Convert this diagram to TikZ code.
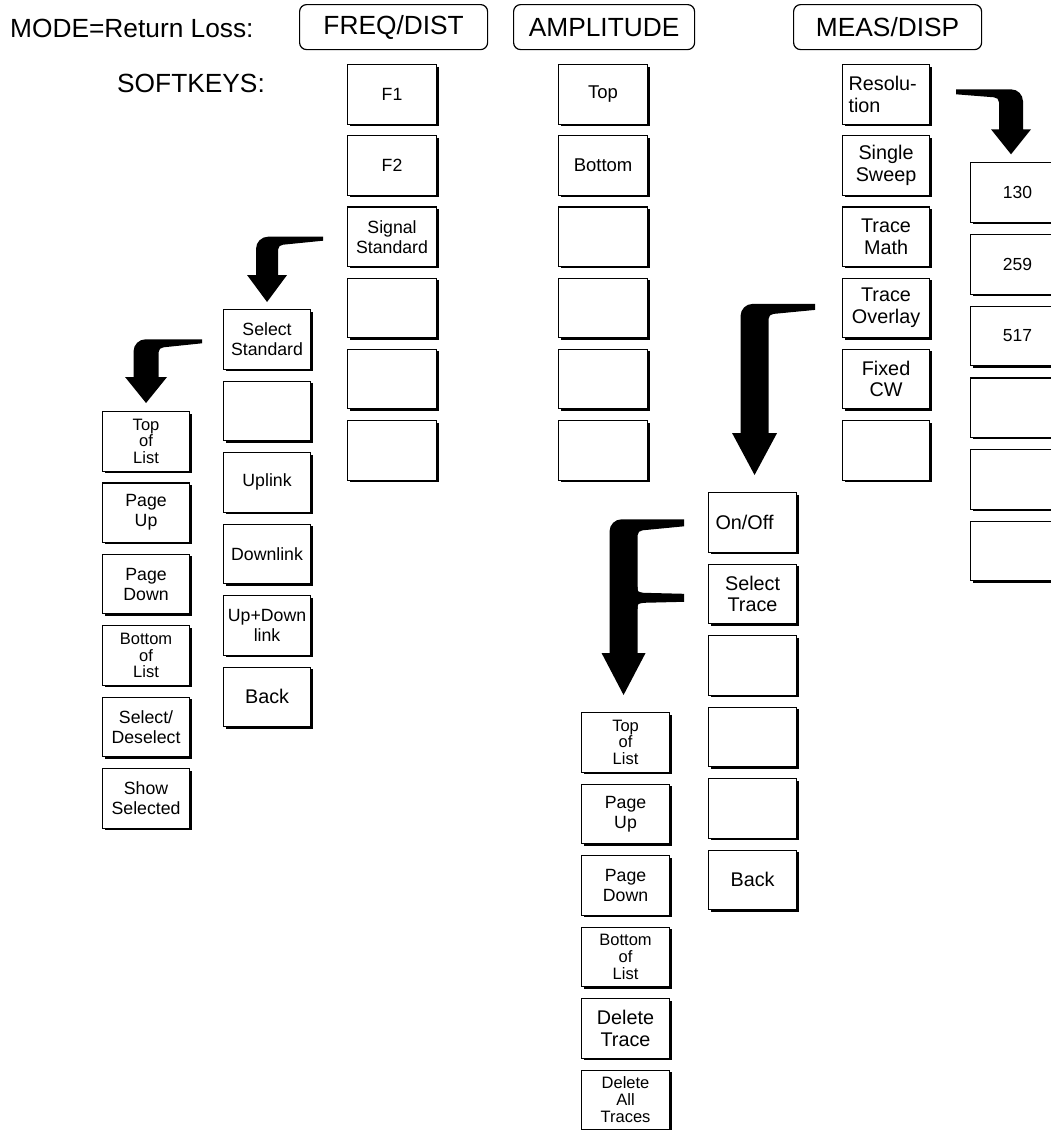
\documentclass[tikz,border=0pt]{standalone}
\usepackage{fontspec}
\setmainfont{Liberation Sans}
\usetikzlibrary{calc,shadows}

\newcommand\fhd{\fontsize{26.3}{30}\selectfont}
\newcommand\fsk{\fontsize{17.7}{20}\selectfont}
\newcommand\fsm{\fontsize{16.5}{16.8}\selectfont}
\newcommand\fbg{\fontsize{19.8}{21.5}\selectfont}

% bent arrow: #1 tail end (top edge), #2 tip, #3 side (+1 tail to the right, -1 tail to the left)
% #4 shaft half width, #5 head half width, #6 head length, #7 tail end thickness, #8 tail thickness at bend
\newcommand{\bentarrow}[8]{%
  \fill[arrowfill] let \p1=(#1), \p2=(#2) in
    (\x1,\y1) -- ({\x2+(#3)*(12-#4)*1pt},\y1)
    .. controls ({\x2+(#3)*(5.4-#4)*1pt},\y1) and ({\x2-(#3)*#4*1pt},{\y1-5.4pt}) ..
    ({\x2-(#3)*#4*1pt},{\y1-12pt})
    -- ({\x2-(#3)*#4*1pt},{\y2+#6*1pt}) -- ({\x2-(#3)*#5*1pt},{\y2+#6*1pt})
    -- (\x2,\y2)
    -- ({\x2+(#3)*#5*1pt},{\y2+#6*1pt}) -- ({\x2+(#3)*#4*1pt},{\y2+#6*1pt})
    -- ({\x2+(#3)*#4*1pt},{\y1-#8*1pt-5pt})
    .. controls ({\x2+(#3)*#4*1pt},{\y1-#8*1pt-2.2pt}) and ({\x2+(#3)*(#4+2.2)*1pt},{\y1-#8*1pt}) ..
    ({\x2+(#3)*(#4+5)*1pt},{\y1-#8*1pt})
    -- (\x1,{\y1-#7*1pt}) -- cycle;
}

\begin{document}
\begin{tikzpicture}[x=1pt,y=-1pt,
  skey/.style={draw, line width=1.1pt, fill=white, minimum height=59.5,
    inner sep=0pt, align=center, font=\fsk, anchor=north west,
    drop shadow={shadow xshift=2pt, shadow yshift=-2pt, opacity=1, fill=black}},
  hdr/.style={draw, rounded corners=7pt, line width=1.2pt, minimum height=45,
    inner sep=0pt, font=\fhd, anchor=north west},
  lbl/.style={font=\fhd, anchor=base west, inner sep=0pt},
  arrowfill/.style={fill=black}]

\fill[white] (0,0) rectangle (1051,1130);
\useasboundingbox (0,0) rectangle (1051,1130);

% titles
\node[lbl] (mode) at (10,37.3) {MODE=Return Loss:};
\node[lbl] (softk) at (117,92.7) {SOFTKEYS:};
\node[hdr, minimum width=188] (hfreq) at (299,4) {FREQ/DIST};
\node[hdr, minimum width=181] (hamp) at (513,4) {AMPLITUDE};
\node[hdr, minimum width=188] (hmeas) at (793,4) {MEAS/DISP};

% FREQ/DIST column
\begin{scope}[every node/.append style={skey, minimum width=89}]
\node (c1-1) at (347,64)    {F1};
\node (c1-2) at (347,135.2) {F2};
\node (c1-3) at (347,206.4) {Signal\\Standard};
\node (c1-4) at (347,277.6) {};
\node (c1-5) at (347,348.8) {};
\node (c1-6) at (347,420)   {};
\end{scope}

% AMPLITUDE column
\begin{scope}[every node/.append style={skey, minimum width=89}]
\node[font=\fontsize{18.5}{20}\selectfont] (c2-1) at (558,64)    {Top};
\node[font=\fontsize{18.5}{20}\selectfont] (c2-2) at (558,135.2) {Bottom};
\node (c2-3) at (558,206.4) {};
\node (c2-4) at (558,277.6) {};
\node (c2-5) at (558,348.8) {};
\node (c2-6) at (558,420)   {};
\end{scope}

% MEAS/DISP column
\begin{scope}[every node/.append style={skey, minimum width=87, font=\fbg}]
\node[text width=75, align=left] (c3-1) at (842,64) {Resolu-\\tion};
\node (c3-2) at (842,135.2) {Single\\Sweep};
\node (c3-3) at (842,206.4) {Trace\\Math};
\node (c3-4) at (842,277.6) {Trace\\Overlay};
\node (c3-5) at (842,348.8) {Fixed\\CW};
\node (c3-6) at (842,420)   {};
\end{scope}

% Resolution submenu
\begin{scope}[every node/.append style={skey, minimum width=94, font=\fontsize{17.5}{20}\selectfont}]
\node (c4-1) at (970,162.3) {130};
\node (c4-2) at (970,234)   {259};
\node (c4-3) at (970,305.7) {517};
\node (c4-4) at (970,377.4) {};
\node (c4-5) at (970,449.1) {};
\node (c4-6) at (970,520.8) {};
\end{scope}

% Signal Standard submenu
\begin{scope}[every node/.append style={skey, minimum width=87}]
\node (c5-1) at (223,309)   {Select\\Standard};
\node (c5-2) at (223,380.5) {};
\node (c5-3) at (223,452)   {Uplink};
\node (c5-4) at (223,523.5) {Downlink};
\node (c5-5) at (223,595)   {Up+Down\\link};
\node[font=\fbg] (c5-6) at (223,666.5) {Back};
\end{scope}

% Select Standard submenu
\begin{scope}[every node/.append style={skey, minimum width=87}]
\node[font=\fsm] (c6-1) at (102,411)   {Top\\of\\List};
\node (c6-2) at (102,482.4) {Page\\Up};
\node (c6-3) at (102,553.8) {Page\\Down};
\node[font=\fsm] (c6-4) at (102,625.2) {Bottom\\of\\List};
\node (c6-5) at (102,696.6) {Select/\\Deselect};
\node (c6-6) at (102,768)   {Show\\Selected};
\end{scope}

% Trace Overlay submenu
\begin{scope}[every node/.append style={skey, minimum width=88, font=\fbg}]
\node[text width=74, align=left] (c7-1) at (708,492) {On/Off};
\node (c7-2) at (708,563.5) {Select\\Trace};
\node (c7-3) at (708,635)   {};
\node (c7-4) at (708,706.5) {};
\node (c7-5) at (708,778)   {};
\node (c7-6) at (708,849.5) {Back};
\end{scope}

% Select Trace submenu
\begin{scope}[every node/.append style={skey, minimum width=88}]
\node[font=\fsm] (c8-1) at (581,712)   {Top\\of\\List};
\node (c8-2) at (581,783.5) {Page\\Up};
\node (c8-3) at (581,855)   {Page\\Down};
\node[font=\fsm] (c8-4) at (581,926.5) {Bottom\\of\\List};
\node[font=\fontsize{19.8}{22}\selectfont] (c8-5) at (581,998) {Delete\\Trace};
\node[font=\fsm] (c8-6) at (581,1069.5) {Delete\\All\\Traces};
\end{scope}

% arrow anchor points
\coordinate (eA) at ($(c1-3.west)+(-24,0)$);
\coordinate (tA) at ($(c5-1.north)+(0,-7)$);
\coordinate (eB) at ($(c5-1.west)+(-21,0)$);
\coordinate (tB) at ($(c6-1.north)+(0,-8)$);
\coordinate (eC) at ($(c3-1.east)+(26,-5)$);
\coordinate (tC) at ($(c4-1.north west)+(41,-8)$);
\coordinate (eD) at ($(c3-4.west)+(-27,-4)$);
\coordinate (tD) at ($(c7-1.north)+(2,-17)$);
\coordinate (eE) at ($(c7-1.west)+(-24,-3)$);
\coordinate (tE) at ($(c8-1.north)+(-2,-17)$);
\coordinate (eE2) at ($(c7-2.west)+(-24,0)$);

\bentarrow{eA}{tA}{1}{11}{20}{27}{4}{8}
\bentarrow{eB}{tB}{1}{12.5}{21}{26}{4}{8}
\bentarrow{eC}{tC}{-1}{12}{20}{25}{5}{8}
\bentarrow{eD}{tD}{1}{14}{22.5}{42}{6}{10}
\bentarrow{eE}{tE}{1}{14}{22}{42}{7}{11}
% middle bar of the forked arrow
\fill[arrowfill] let \p1=(eE2), \p2=(tE) in
  ({\x2+10pt},{\y1+7pt}) -- ({\x2+14pt},{\y1+7pt})
  .. controls ({\x2+14pt},{\y1+2pt}) .. ({\x2+20pt},{\y1+1pt})
  -- (\x1,\y1) -- (\x1,{\y1-8pt}) -- ({\x2+20pt},{\y1-9pt})
  .. controls ({\x2+14pt},{\y1-10pt}) .. ({\x2+14pt},{\y1-15pt})
  -- ({\x2+10pt},{\y1-15pt}) -- cycle;

\end{tikzpicture}
\end{document}
